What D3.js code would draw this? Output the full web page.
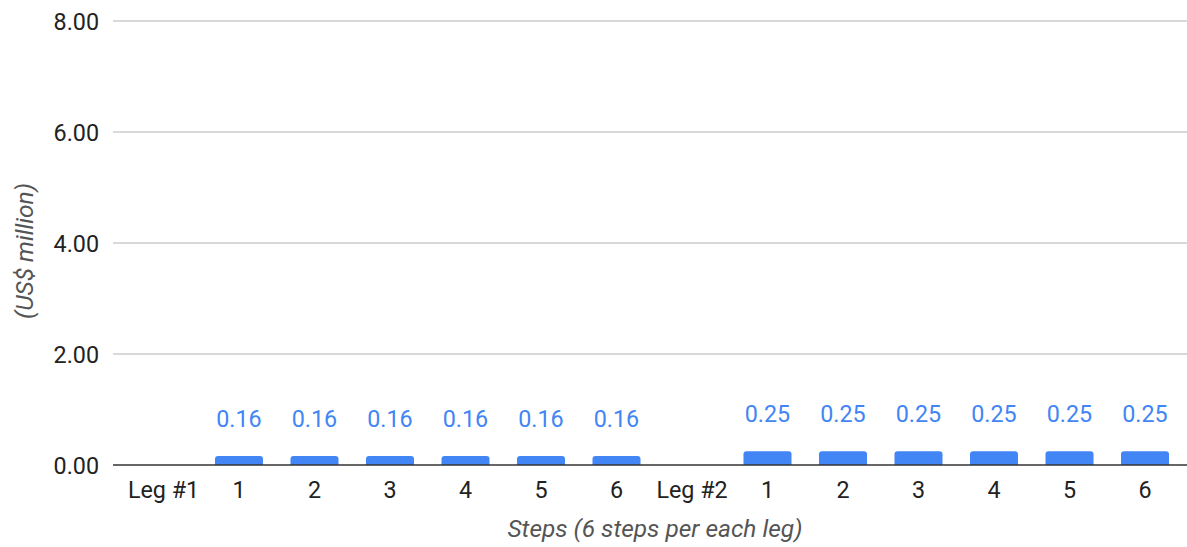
<!DOCTYPE html>
<html><head><meta charset="utf-8">
<script src="https://cdn.jsdelivr.net/npm/d3@7"></script>
<style>
html,body{margin:0;padding:0;background:#fff;}
svg{display:block;font-family:Roboto,"Noto Sans",sans-serif;}
</style></head>
<body>
<svg id="chart" width="1187" height="547"></svg>
<script>
const categories = ["Leg #1","1","2","3","4","5","6","Leg #2","1","2","3","4","5","6"];
const values = [null,0.16,0.16,0.16,0.16,0.16,0.16,null,0.25,0.25,0.25,0.25,0.25,0.25];
const valueLabels = [null,"0.16","0.16","0.16","0.16","0.16","0.16",null,"0.25","0.25","0.25","0.25","0.25","0.25"];
const yTicks = [0,2,4,6,8];
const xTitle = "Steps (6 steps per each leg)";
const yTitle = "(US$ million)";

const svg = d3.select("#chart");
const gridLeft = 113, gridRight = 1187;
const fs = 23.3;
const x = d3.scaleBand().domain(d3.range(categories.length)).range([125.75,1182.75]).paddingInner(0.364).paddingOuter(0.182);
const y = d3.scaleLinear().domain([0,8]).range([465,21]);

// gridlines
svg.append("g").selectAll("line").data(yTicks.filter(d=>d!==0)).join("line")
  .attr("x1",gridLeft).attr("x2",gridRight)
  .attr("y1",d=>y(d)).attr("y2",d=>y(d))
  .attr("stroke","#cccccc").attr("stroke-width",1.3);

// y axis labels
const yAxis = d3.axisLeft(y).tickValues(yTicks).tickFormat(d3.format(".2f")).tickSize(0).tickPadding(0);
const ya = svg.append("g").attr("transform",`translate(99,0)`).call(yAxis);
ya.select(".domain").remove();
ya.selectAll("text").attr("font-size",fs).attr("fill","#222").attr("font-family","Roboto").attr("dy","0.36em");

// bars
const r = 3;
svg.append("g").selectAll("path").data(values.map((v,i)=>({v,i})).filter(d=>d.v!=null)).join("path")
  .attr("fill","#4285f4")
  .attr("d",d=>{
    const x0 = x(d.i), w = x.bandwidth(), y0 = y(d.v), yb = y(0);
    return `M${x0},${yb}V${y0+r}Q${x0},${y0} ${x0+r},${y0}H${x0+w-r}Q${x0+w},${y0} ${x0+w},${y0+r}V${yb}Z`;
  });

// baseline
svg.append("line").attr("x1",gridLeft).attr("x2",gridRight).attr("y1",y(0)).attr("y2",y(0))
  .attr("stroke","#333").attr("stroke-width",1.3);

// value labels
svg.append("g").selectAll("text").data(values.map((v,i)=>({v,i})).filter(d=>d.v!=null)).join("text")
  .attr("x",d=>x(d.i)+x.bandwidth()/2)
  .attr("y",d=>y(d.v)-29)
  .attr("text-anchor","middle").attr("font-size",fs).attr("fill","#4285f4")
  .text(d=>valueLabels[d.i]);

// x axis labels
const xAxis = d3.axisBottom(x).tickFormat(i=>categories[i]).tickSize(0).tickPadding(0);
const xa = svg.append("g").attr("transform",`translate(0,${y(0)})`).call(xAxis);
xa.select(".domain").remove();
xa.selectAll("text").attr("font-size",fs).attr("fill","#222").attr("font-family","Roboto").attr("dy",null).attr("y",32.5);

// axis titles
svg.append("text").attr("x",655).attr("y",537).attr("text-anchor","middle")
  .attr("font-size",24.5).attr("font-style","italic").attr("fill","#555").text(xTitle);
svg.append("text").attr("transform","translate(33,251) rotate(-90)").attr("text-anchor","middle")
  .attr("font-size",24.5).attr("font-style","italic").attr("fill","#555").text(yTitle);
</script>
</body></html>
